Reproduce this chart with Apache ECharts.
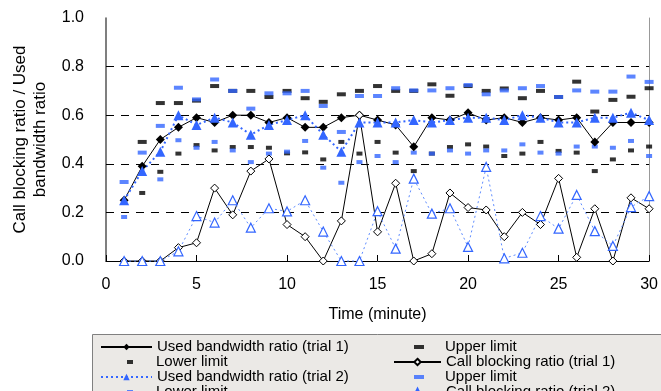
<!DOCTYPE html>
<html>
<head>
<meta charset="utf-8">
<script src="https://cdn.jsdelivr.net/npm/echarts@6/dist/echarts.min.js"></script>
<style>
  html, body { margin: 0; padding: 0; background: #fff; }
  #main { width: 661px; height: 391px; }
</style>
</head>
<body>
<div id="main"></div>
<script>
// minute index 1..30
const minutes = [1,2,3,4,5,6,7,8,9,10,11,12,13,14,15,16,17,18,19,20,21,22,23,24,25,26,27,28,29,30];

// trial 1
const bwTrial1 = [0.25,0.39,0.50,0.55,0.59,0.57,0.60,0.60,0.57,0.59,0.55,0.55,0.59,0.60,0.58,0.56,0.47,0.59,0.58,0.61,0.58,0.59,0.57,0.59,0.58,0.59,0.49,0.57,0.57,0.57];
const upperTrial1 = [null,0.49,0.65,0.65,0.66,0.72,0.70,0.70,0.675,0.70,0.67,0.655,0.686,0.70,0.72,0.70,0.70,0.727,0.68,0.72,0.70,0.71,0.67,0.70,0.675,0.738,0.615,0.663,0.676,0.711];
const lowerTrial1 = [null,0.28,0.367,0.442,0.477,0.455,0.469,0.469,0.466,0.443,0.447,0.418,0.49,0.442,0.49,0.446,0.37,0.442,0.469,0.48,0.471,0.432,0.442,0.49,0.453,0.446,0.37,0.418,0.455,0.471];
const blockTrial1 = [0,0,0,0.055,0.075,0.30,0.19,0.37,0.42,0.15,0.10,0,0.165,0.60,0.12,0.32,0,0.03,0.28,0.22,0.21,0.10,0.20,0.15,0.34,0.015,0.215,0,0.26,0.215];

// trial 2
const bwTrial2 = [0.25,0.37,0.45,0.60,0.56,0.59,0.57,0.52,0.56,0.58,0.60,0.52,0.45,0.57,0.57,0.57,0.58,0.57,0.58,0.59,0.59,0.58,0.60,0.59,0.57,0.57,0.59,0.59,0.61,0.58];
const upperTrial2 = [0.325,0.446,0.556,0.713,0.665,0.747,0.70,0.627,0.69,0.69,0.70,0.638,0.531,0.679,0.679,0.711,0.702,0.702,0.711,0.724,0.686,0.702,0.711,0.72,0.675,0.702,0.697,0.697,0.759,0.737];
const lowerTrial2 = [0.181,null,0.336,0.497,0.466,0.49,0.455,0.407,0.442,0.45,0.494,0.384,0.322,0.407,0.432,0.407,0.446,0.442,0.455,0.442,0.455,0.455,0.48,0.446,0.442,0.471,0.471,0.466,0.494,0.432];
const blockTrial2 = [0,0,0,0.04,0.185,0.158,0.25,0.137,0.217,0.204,0.25,0.121,0,0,0.205,0.051,0.339,0.195,0.217,0.058,0.387,0.011,0.034,0.185,0.133,0.272,0.123,0.062,0.222,0.267];

const gridValues = [0.2, 0.4, 0.6, 0.8];

const FONT = '"Liberation Sans", Arial, sans-serif';
const BLUE = '#3366ff';

const pairs = (vals) => minutes.map((m, i) => [m, vals[i]]).filter(p => p[1] !== null);

const displayName = {
  'bw1': 'Used bandwidth ratio (trial 1)',
  'up1': 'Upper limit',
  'lo1': 'Lower limit',
  'cb1': 'Call blocking ratio (trial 1)',
  'bw2': 'Used bandwidth ratio (trial 2)',
  'up2': 'Upper limit',
  'lo2': 'Lower limit',
  'cb2': 'Call blocking ratio (trial 2)'
};

// one legend per entry so the 2-column Excel layout can be reproduced
function legendItem(name, left, rowCenter, w, h, padLeft) {
  return {
    data: [name],
    left: left,
    top: rowCenter - 7,
    orient: 'vertical',
    padding: 0,
    itemWidth: w,
    itemHeight: h,
    selectedMode: false,
    formatter: n => displayName[n],
    textStyle: { fontFamily: FONT, fontSize: 15, color: '#000', padding: [0, 0, 0, padLeft] }
  };
}

const rows = [346.5, 361.5, 376.5, 391.5];

const chart = echarts.init(document.getElementById('main'));
chart.setOption({
  animation: false,
  backgroundColor: '#fff',
  textStyle: { fontFamily: FONT },
  grid: { left: 106, right: 11, top: 18, bottom: 130 },
  graphic: [{
    type: 'rect', left: 92, top: 334, z: 0,
    shape: { width: 580, height: 70 },
    style: { fill: '#ebe9e6', stroke: '#808080', lineWidth: 1 }
  }],
  legend: [
    legendItem('bw1', 100, rows[0], 51, 8, 0),
    legendItem('lo1', 127, rows[1], 6, 4, 18),
    legendItem('bw2', 100, rows[2], 51, 8, 0),
    legendItem('lo2', 127, rows[3], 6, 4, 18),
    legendItem('up1', 414, rows[0], 10, 4, 16),
    legendItem('cb1', 393, rows[1], 47, 8, 0),
    legendItem('up2', 414, rows[2], 10, 4, 16),
    legendItem('cb2', 393, rows[3], 47, 8, 0)
  ],
  xAxis: {
    type: 'value', min: 0, max: 30, interval: 5,
    name: 'Time (minute)', nameLocation: 'middle', nameGap: 46,
    nameTextStyle: { fontFamily: FONT, fontSize: 16, color: '#000' },
    axisLine: { lineStyle: { color: '#000', width: 1 } },
    axisTick: { inside: true, length: 6, lineStyle: { color: '#000' } },
    axisLabel: { fontFamily: FONT, fontSize: 16, color: '#000', margin: 16 },
    splitLine: { show: false }
  },
  yAxis: [{
    type: 'value', min: 0, max: 1, interval: 0.2,
    name: 'Call blocking ratio / Used\nbandwidth ratio', nameLocation: 'middle', nameGap: 56,
    nameTextStyle: { fontFamily: FONT, fontSize: 17, color: '#000', lineHeight: 20 },
    axisLine: { show: true, lineStyle: { color: '#555', width: 1.5 } },
    axisTick: { show: false },
    axisLabel: { fontFamily: FONT, fontSize: 16, color: '#000', margin: 22, formatter: v => v.toFixed(1) },
    splitLine: { show: false }
  }, {
    type: 'value', min: 0, max: 1, position: 'right',
    axisLine: { show: true, lineStyle: { color: '#999', width: 1 } },
    axisTick: { show: false }, axisLabel: { show: false }, splitLine: { show: false }
  }],
  series: [
    {
      name: 'bw1', type: 'line', data: pairs(bwTrial1), clip: false,
      symbol: 'diamond', symbolSize: 9,
      itemStyle: { color: '#000' }, lineStyle: { color: '#000', width: 1 },
      markLine: {
        silent: true, symbol: 'none', z: 1, label: { show: false },
        lineStyle: { color: '#000', type: [8, 7], width: 1 },
        data: gridValues.map(v => ({ yAxis: v }))
      }
    },
    {
      name: 'up1', type: 'scatter', data: pairs(upperTrial1), clip: false,
      symbol: 'rect', symbolSize: [9, 4], itemStyle: { color: '#000' }
    },
    {
      name: 'lo1', type: 'scatter', data: pairs(lowerTrial1), clip: false,
      symbol: 'rect', symbolSize: [6, 4], itemStyle: { color: '#000' }
    },
    {
      name: 'cb1', type: 'line', data: pairs(blockTrial1), clip: false,
      symbol: 'diamond', symbolSize: 8,
      itemStyle: { color: '#fff', borderColor: '#000', borderWidth: 1 },
      lineStyle: { color: '#000', width: 1 }
    },
    {
      name: 'bw2', type: 'line', data: pairs(bwTrial2), clip: false,
      symbol: 'triangle', symbolSize: 10,
      itemStyle: { color: BLUE }, lineStyle: { color: BLUE, width: 2, type: [2, 3] }
    },
    {
      name: 'up2', type: 'scatter', data: pairs(upperTrial2), clip: false,
      symbol: 'rect', symbolSize: [9, 4], itemStyle: { color: BLUE }
    },
    {
      name: 'lo2', type: 'scatter', data: pairs(lowerTrial2), clip: false,
      symbol: 'rect', symbolSize: [6, 4], itemStyle: { color: BLUE }
    },
    {
      name: 'cb2', type: 'line', data: pairs(blockTrial2), clip: false,
      symbol: 'triangle', symbolSize: 9,
      itemStyle: { color: '#fff', borderColor: BLUE, borderWidth: 1.2 },
      lineStyle: { color: '#5e8cff', width: 1, type: [2, 3] }
    }
  ]
});
</script>
</body>
</html>
